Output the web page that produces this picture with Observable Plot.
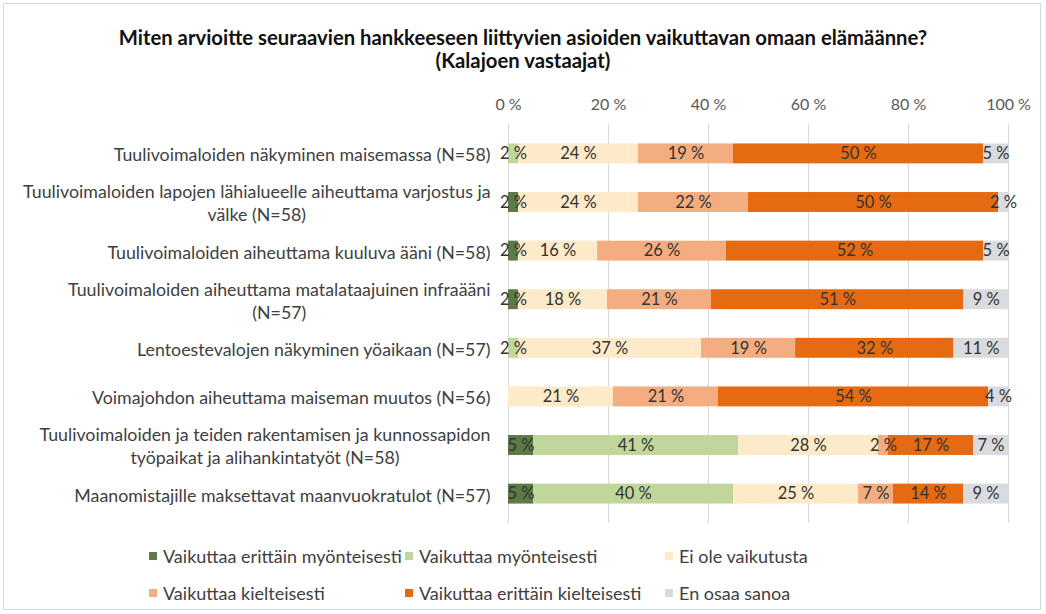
<!DOCTYPE html>
<html>
<head>
<meta charset="utf-8">
<script src="https://cdn.jsdelivr.net/npm/d3@7"></script>
<script src="https://cdn.jsdelivr.net/npm/@observablehq/plot@0.6"></script>
<style>
  html, body { margin: 0; padding: 0; background: #fff; }
  #wrap { position: relative; width: 1046px; height: 614px; font-family: Lato, "Open Sans", sans-serif; }
  #border { position: absolute; left: 3px; top: 3px; width: 1036px; height: 605px; border: 1px solid #d9d9d9; }
  #title { position: absolute; top: 26px; left: 0; width: 1046px; text-align: center; font-weight: bold; font-size: 20.3px; line-height: 23px; color: #111; }
  #chart { position: absolute; top: 80px; left: 0; }
  #legend { position: absolute; top: 545px; left: 149px; display: grid; grid-template-columns: 256px 260px auto; row-gap: 15px; font-size: 18px; line-height: 22px; color: #404040; }
  .item { display: flex; align-items: center; white-space: nowrap; }
  .sw { width: 8px; height: 8px; margin-right: 6px; flex: none; }
</style>
</head>
<body>
<div id="wrap">
  <div id="border"></div>
  <div id="title">Miten arvioitte seuraavien hankkeeseen liittyvien asioiden vaikuttavan omaan elämäänne?<br>(Kalajoen vastaajat)</div>
  <div id="chart"></div>
  <div id="legend"></div>
</div>
<script>
const categories = [
  "Tuulivoimaloiden näkyminen maisemassa (N=58)",
  "Tuulivoimaloiden lapojen lähialueelle aiheuttama varjostus ja\nvälke (N=58)",
  "Tuulivoimaloiden aiheuttama kuuluva ääni (N=58)",
  "Tuulivoimaloiden aiheuttama matalataajuinen infraääni\n(N=57)",
  "Lentoestevalojen näkyminen yöaikaan (N=57)",
  "Voimajohdon aiheuttama maiseman muutos (N=56)",
  "Tuulivoimaloiden ja teiden rakentamisen ja kunnossapidon\ntyöpaikat ja alihankintatyöt (N=58)",
  "Maanomistajille maksettavat maanvuokratulot (N=57)"
];
const seriesNames = [
  "Vaikuttaa erittäin myönteisesti",
  "Vaikuttaa myönteisesti",
  "Ei ole vaikutusta",
  "Vaikuttaa kielteisesti",
  "Vaikuttaa erittäin kielteisesti",
  "En osaa sanoa"
];
const veryPositive = [0, 2, 2, 2, 0, 0, 5, 5];
const positive     = [2, 0, 0, 0, 2, 0, 41, 40];
const noEffect     = [24, 24, 16, 18, 37, 21, 28, 25];
const negative     = [19, 22, 26, 21, 19, 21, 2, 7];
const veryNegative = [50, 50, 52, 51, 32, 54, 17, 14];
const dontKnow     = [5, 2, 5, 9, 11, 4, 7, 9];
const tickValues = [0, 20, 40, 60, 80, 100];
const colors = ["#5b7a45", "#c0d69b", "#fdeac9", "#f4ad80", "#e66a12", "#d9dbde"];

const seriesValues = [veryPositive, positive, noEffect, negative, veryNegative, dontKnow];
const data = [];
categories.forEach((c, i) => {
  seriesNames.forEach((s, j) => {
    const v = seriesValues[j][i];
    if (v > 0) data.push({category: c, series: s, value: v});
  });
});

const stackOpts = {x: "value", y: "category", z: "series", order: seriesNames, offset: "normalize"};

const chart = Plot.plot({
  width: 1046,
  height: 447,
  marginLeft: 508,
  marginRight: 38,
  marginTop: 44,
  marginBottom: 4,
  style: {fontFamily: "Lato, 'Open Sans', sans-serif", background: "transparent"},
  x: {domain: [0, 1], axis: null},
  y: {domain: categories, paddingInner: 0.59, paddingOuter: 0.4, round: false, axis: null},
  color: {domain: seriesNames, range: colors},
  marks: [
    Plot.ruleX(tickValues, {x: d => d / 100, stroke: "#d9d9d9", strokeWidth: 1}),
    Plot.axisX({anchor: "top", label: null, ticks: tickValues.map(d => d / 100), tickFormat: d => Math.round(d * 100) + " %", tickSize: 0, tickPadding: 15, fontSize: 16, color: "#595959"}),
    Plot.barX(data, Plot.stackX({...stackOpts, fill: "series"})),
    Plot.text(data, Plot.stackX({...stackOpts, text: d => d.value + " %", fill: "#333", fontSize: 16.5})),
    Plot.text(categories, {y: d => d, text: d => d, frameAnchor: "left", dx: -18, textAnchor: "end", fontSize: 17.8, lineHeight: 1.3, fill: "#404040"})
  ]
});
document.getElementById("chart").append(chart);

// center the lines of multi-line category labels within their right-aligned block
function centerLines() {
  chart.querySelectorAll("text").forEach(t => {
    const spans = Array.from(t.querySelectorAll("tspan"));
    if (spans.length > 1) {
      spans.forEach(s => s.setAttribute("x", 0));
      const lens = spans.map(s => s.getComputedTextLength());
      const W = Math.max(...lens);
      spans.forEach((s, k) => s.setAttribute("x", -(W - lens[k]) / 2));
    }
  });
}
centerLines();
if (document.fonts && document.fonts.ready) document.fonts.ready.then(centerLines);

const legend = document.getElementById("legend");
seriesNames.forEach((s, i) => {
  const item = document.createElement("div");
  item.className = "item";
  const sw = document.createElement("span");
  sw.className = "sw";
  sw.style.background = colors[i];
  item.append(sw, document.createTextNode(s));
  legend.append(item);
});
</script>
</body>
</html>
